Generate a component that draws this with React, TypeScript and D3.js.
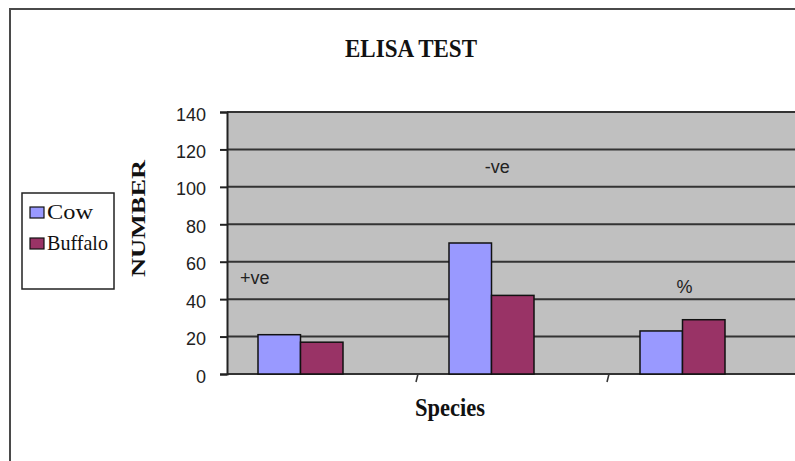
import { useEffect, useRef } from 'react';
import * as d3 from 'd3';

const categories = ['+ve', '-ve', '%'];
const seriesNames = ['Cow', 'Buffalo'];
const cowValues = [21, 70, 23];
const buffaloValues = [17, 42, 29];
const yTicks = [0, 20, 40, 60, 80, 100, 120, 140];
// where the category labels sit inside the plot (value units / band fraction)
const labelValues = [47.9, 107.3, 43.1];
const labelBandPos = [0.15, 0.42, 0.4];

const colors = ['#9999ff', '#993366'];

export default function App() {
  const svgRef = useRef<SVGSVGElement>(null);

  useEffect(() => {
    if (!svgRef.current) return;
    const svg = d3.select(svgRef.current);
    svg.selectAll('*').remove();

    const W = 795;
    const H = 461;
    const plot = { left: 227, right: 799, top: 112, bottom: 374 };

    svg.attr('width', W).attr('height', H);

    // Outer chart border (runs off the right / bottom edge)
    svg
      .append('rect')
      .attr('x', 10)
      .attr('y', 9)
      .attr('width', 820)
      .attr('height', 480)
      .attr('fill', '#fff')
      .attr('stroke', '#4a4a4a')
      .attr('stroke-width', 2);

    const x = d3.scaleBand().domain(categories).range([plot.left - 1, plot.right]).padding(0);
    const x1 = d3.scaleBand().domain(seriesNames).range([32, 117]).padding(0);
    const y = d3.scaleLinear().domain([0, 140]).range([plot.bottom, plot.top]);

    // Plot area
    svg
      .append('rect')
      .attr('x', plot.left)
      .attr('y', plot.top)
      .attr('width', W - plot.left + 10)
      .attr('height', plot.bottom - plot.top)
      .attr('fill', '#c0c0c0');

    // Grid lines
    svg
      .append('g')
      .selectAll('line')
      .data(yTicks)
      .enter()
      .append('line')
      .attr('x1', plot.left)
      .attr('x2', W + 5)
      .attr('y1', (d) => y(d))
      .attr('y2', (d) => y(d))
      .attr('stroke', '#333')
      .attr('stroke-width', 2);

    // Y axis
    const yAxis = svg
      .append('g')
      .attr('transform', `translate(${plot.left},0)`)
      .call(d3.axisLeft(y).tickValues(yTicks).tickSize(7).tickPadding(14).tickFormat(d3.format('d')));
    yAxis.select('.domain').attr('stroke', '#222').attr('stroke-width', 2);
    yAxis.selectAll('.tick line').attr('stroke', '#222').attr('stroke-width', 2);
    yAxis
      .selectAll('.tick text')
      .attr('fill', '#222')
      .attr('font-family', 'Liberation Sans, Arial, sans-serif')
      .attr('font-size', '18px')
      .attr('dy', '0.45em');

    // Category separators on the x axis
    svg
      .append('g')
      .selectAll('line')
      .data(categories.slice(1))
      .enter()
      .append('line')
      .attr('x1', (d) => (x(d) || 0) + 1)
      .attr('x2', (d) => (x(d) || 0) - 1)
      .attr('y1', plot.bottom)
      .attr('y2', plot.bottom + 8)
      .attr('stroke', '#333')
      .attr('stroke-width', 1.5);

    // Bars
    const series = [cowValues, buffaloValues];
    series.forEach((vals, si) => {
      svg
        .append('g')
        .selectAll('rect')
        .data(vals)
        .enter()
        .append('rect')
        .attr('x', (d, i) => (x(categories[i]) || 0) + (x1(seriesNames[si]) || 0))
        .attr('y', (d) => y(d))
        .attr('width', x1.bandwidth())
        .attr('height', (d) => y(0) - y(d))
        .attr('fill', colors[si])
        .attr('stroke', '#111')
        .attr('stroke-width', 1.5);
    });

    // Category labels inside the plot
    svg
      .append('g')
      .selectAll('text')
      .data(categories)
      .enter()
      .append('text')
      .attr('x', (d, i) => (x(d) || 0) + x.bandwidth() * labelBandPos[i])
      .attr('y', (d, i) => y(labelValues[i]))
      .attr('text-anchor', 'middle')
      .attr('fill', '#222')
      .attr('font-family', 'Liberation Sans, Arial, sans-serif')
      .attr('font-size', '18px')
      .text((d) => d);

    // Title
    svg
      .append('text')
      .attr('x', 411)
      .attr('y', 57)
      .attr('text-anchor', 'middle')
      .attr('font-family', 'Liberation Serif, Times New Roman, serif')
      .attr('font-weight', 'bold')
      .attr('font-size', '26px')
      .attr('textLength', 132)
      .attr('lengthAdjust', 'spacingAndGlyphs')
      .attr('fill', '#111')
      .text('ELISA TEST');

    // Y axis title
    svg
      .append('text')
      .attr('transform', `translate(145,${(160 + 277) / 2}) rotate(-90)`)
      .attr('text-anchor', 'middle')
      .attr('font-family', 'Liberation Serif, Times New Roman, serif')
      .attr('font-weight', 'bold')
      .attr('font-size', '18px')
      .attr('textLength', 117)
      .attr('lengthAdjust', 'spacingAndGlyphs')
      .attr('fill', '#111')
      .text('NUMBER');

    // X axis title
    svg
      .append('text')
      .attr('x', 450)
      .attr('y', 416)
      .attr('text-anchor', 'middle')
      .attr('font-family', 'Liberation Serif, Times New Roman, serif')
      .attr('font-weight', 'bold')
      .attr('font-size', '26px')
      .attr('textLength', 70)
      .attr('lengthAdjust', 'spacingAndGlyphs')
      .attr('fill', '#111')
      .text('Species');

    // Legend
    const legend = svg.append('g').attr('transform', 'translate(22,193)');
    legend
      .append('rect')
      .attr('width', 92)
      .attr('height', 96)
      .attr('fill', '#fff')
      .attr('stroke', '#222')
      .attr('stroke-width', 1.5);
    const textLens = [46, 61];
    seriesNames.forEach((name, i) => {
      const row = legend.append('g').attr('transform', `translate(8,${14 + i * 31})`);
      row
        .append('rect')
        .attr('width', 14)
        .attr('height', 11)
        .attr('fill', colors[i])
        .attr('stroke', '#111')
        .attr('stroke-width', 1.2);
      row
        .append('text')
        .attr('x', 17)
        .attr('y', 12)
        .attr('font-family', 'Liberation Serif, Times New Roman, serif')
        .attr('font-size', '21px')
        .attr('textLength', textLens[i])
        .attr('lengthAdjust', 'spacingAndGlyphs')
        .attr('fill', '#111')
        .text(name);
    });
  }, []);

  return (
    <div style={{ position: 'absolute', left: 0, top: 0, width: 795, height: 461, overflow: 'hidden', background: '#fff' }}>
      <svg ref={svgRef} style={{ display: 'block' }} />
    </div>
  );
}
